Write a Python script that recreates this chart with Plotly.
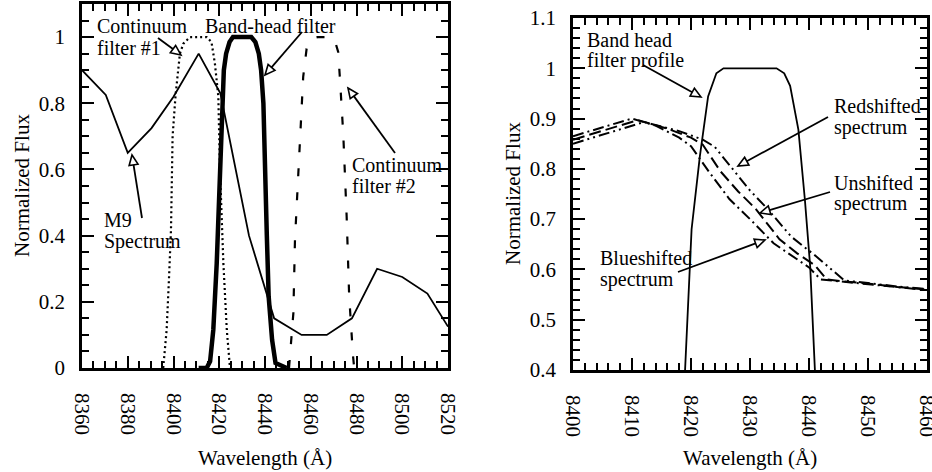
import plotly.graph_objects as go
import math

W, H = 932, 472
FONT = "Liberation Serif, Times New Roman, DejaVu Serif, serif"

# ---------------- Left panel data ----------------
m9_wl = [8360, 8370.4, 8380, 8390.4, 8400, 8411, 8420.5, 8433, 8444, 8456, 8467, 8478, 8489, 8500, 8511, 8520]
m9_flux = [0.90, 0.825, 0.65, 0.725, 0.82, 0.95, 0.83, 0.40, 0.15, 0.10, 0.10, 0.15, 0.30, 0.275, 0.225, 0.125]

cf1_wl = [8395.5, 8397, 8398, 8398.9, 8399.6, 8400.9, 8402.8, 8404.3, 8407.2, 8414.5, 8416.6, 8418.1, 8419.6, 8420.3, 8421.8, 8423.3, 8424.7]
cf1_tr = [0.0, 0.115, 0.266, 0.417, 0.70, 0.824, 0.95, 0.98, 1.0, 1.0, 0.985, 0.92, 0.82, 0.6, 0.317, 0.115, 0.0]

bh_wl = [8411, 8414.5, 8416, 8417.4, 8418.9, 8420.2, 8421.1, 8422, 8423, 8424.5, 8426, 8434, 8435.8, 8437.3, 8438.3, 8439.3, 8440.8, 8441.6, 8443.1, 8444.6, 8449.5]
bh_tr = [0.0, 0.0, 0.02, 0.115, 0.317, 0.6, 0.81, 0.9, 0.95, 0.985, 1.0, 1.0, 0.985, 0.95, 0.9, 0.8, 0.4, 0.216, 0.085, 0.015, 0.0]

cf2_wl = [8450.5, 8451, 8452.4, 8453.1, 8455.3, 8456.7, 8458.2, 8460.5, 8463, 8468, 8470.5, 8472, 8472.8, 8474.2, 8475.7, 8476.8, 8478.5, 8479]
cf2_tr = [0.0, 0.045, 0.166, 0.387, 0.688, 0.88, 0.965, 0.995, 1.0, 1.0, 0.99, 0.955, 0.87, 0.709, 0.457, 0.216, 0.035, 0.0]

# ---------------- Right panel data ----------------
rf_wl = [8418.6, 8419, 8420.1, 8421.5, 8422.9, 8424.3, 8425.5, 8434.5, 8435.8, 8436.8, 8438.2, 8439.3, 8440.2, 8441, 8441.3]
rf_tr = [0.3, 0.4, 0.68, 0.825, 0.944, 0.99, 1.0, 1.0, 0.99, 0.965, 0.878, 0.739, 0.606, 0.4, 0.3]

un_wl = [8400, 8411, 8416, 8420, 8422, 8425, 8428, 8431, 8435, 8438, 8441, 8443, 8446, 8450, 8455, 8460]
un_fx = [0.858, 0.897, 0.880, 0.862, 0.848, 0.795, 0.755, 0.720, 0.660, 0.632, 0.608, 0.580, 0.576, 0.572, 0.565, 0.560]

rs_wl = [8400, 8412, 8418, 8422, 8424, 8427, 8430, 8433, 8437, 8441, 8444.5, 8446, 8450, 8455, 8460]
rs_fx = [0.850, 0.893, 0.875, 0.858, 0.844, 0.800, 0.757, 0.720, 0.665, 0.628, 0.594, 0.578, 0.573, 0.566, 0.561]

bs_wl = [8400, 8410, 8414, 8418, 8420, 8423, 8426.5, 8430, 8434, 8437, 8440, 8442, 8446, 8450, 8455, 8460]
bs_fx = [0.865, 0.900, 0.886, 0.862, 0.845, 0.795, 0.740, 0.700, 0.652, 0.628, 0.604, 0.580, 0.575, 0.571, 0.564, 0.559]

# ---------------- layout geometry (screen pixels) ----------------
L_box = dict(x0=82, x1=448, top=4, bot=368)
R_box = dict(x0=573, x1=927, top=18, bot=370)


def px(x):
    return x / W


def py(y):
    return 1 - y / H


fig = go.Figure()

fig.add_trace(go.Scatter(x=m9_wl, y=m9_flux, mode="lines", line=dict(color="black", width=1.8),
                         xaxis="x", yaxis="y", showlegend=False))
fig.add_trace(go.Scatter(x=cf1_wl, y=cf1_tr, mode="lines", line=dict(color="black", width=2.2, dash="2px,3px"),
                         xaxis="x", yaxis="y", showlegend=False))
fig.add_trace(go.Scatter(x=bh_wl, y=bh_tr, mode="lines", line=dict(color="black", width=4.5),
                         xaxis="x", yaxis="y", showlegend=False))
fig.add_trace(go.Scatter(x=cf2_wl, y=cf2_tr, mode="lines", line=dict(color="black", width=2.2, dash="8px,16px"),
                         xaxis="x", yaxis="y", showlegend=False))

fig.add_trace(go.Scatter(x=rf_wl, y=rf_tr, mode="lines", line=dict(color="black", width=1.8),
                         xaxis="x2", yaxis="y2", showlegend=False))
fig.add_trace(go.Scatter(x=un_wl, y=un_fx, mode="lines", line=dict(color="black", width=2, dash="12px,5px"),
                         xaxis="x2", yaxis="y2", showlegend=False))
fig.add_trace(go.Scatter(x=rs_wl, y=rs_fx, mode="lines",
                         line=dict(color="black", width=2, dash="11px,4px,2px,4px,2px,4px"),
                         xaxis="x2", yaxis="y2", showlegend=False))
fig.add_trace(go.Scatter(x=bs_wl, y=bs_fx, mode="lines", line=dict(color="black", width=2, dash="11px,4px,2px,4px"),
                         xaxis="x2", yaxis="y2", showlegend=False))


def axis_common(**kw):
    d = dict(showline=True, linewidth=2.5, linecolor="black", mirror="ticks",
             ticks="inside", ticklen=12, tickwidth=1.5, tickcolor="black",
             showgrid=False, zeroline=False, automargin=False, ticklabeloverflow="allow",
             tickfont=dict(family=FONT, size=21, color="black"))
    d.update(kw)
    return d


def minor(dt, t0):
    return dict(ticks="inside", ticklen=7, tickwidth=1.5, tickcolor="black", dtick=dt, tick0=t0, showgrid=False)


fig.update_layout(
    width=W, height=H, margin=dict(l=0, r=0, t=0, b=0, autoexpand=False),
    paper_bgcolor="white", plot_bgcolor="white",
    font=dict(family=FONT, size=20, color="black"),
    xaxis=axis_common(domain=[px(L_box["x0"]), px(L_box["x1"])], range=[8360, 8520],
                      tickmode="linear", tick0=8360, dtick=20,
                      tickangle=90, ticklabelstandoff=18, anchor="y", minor=minor(5, 8360)),
    yaxis=axis_common(domain=[py(L_box["bot"]), py(L_box["top"])], range=[0, 1.1],
                      tickmode="linear", tick0=0, dtick=0.2,
                      ticklabelstandoff=10, anchor="x", minor=minor(0.05, 0)),
    xaxis2=axis_common(domain=[px(R_box["x0"]), px(R_box["x1"])], range=[8400, 8460],
                       tickmode="linear", tick0=8400, dtick=10,
                       tickangle=90, ticklabelstandoff=18, anchor="y2", minor=minor(2, 8400)),
    yaxis2=axis_common(domain=[py(R_box["bot"]), py(R_box["top"])], range=[0.4, 1.1],
                       tickmode="linear", tick0=0.4, dtick=0.1,
                       ticklabelstandoff=10, anchor="x2", minor=minor(0.02, 0.4)),
)

# ---------------- text labels (screen pixel positions: left x, center y) ----------------
labels = [
    ("Continuum", 95, 26), ("filter #1", 95, 48),
    ("Band-head filter", 203, 26),
    ("M9", 102, 220), ("Spectrum", 102, 241),
    ("Continuum", 350, 165), ("filter #2", 350, 186),
    ("Band head", 585, 40), ("filter profile", 585, 61),
    ("Redshifted", 832, 106), ("spectrum", 832, 127),
    ("Unshifted", 832, 183), ("spectrum", 832, 204),
    ("Blueshifted", 598, 258), ("spectrum", 598, 279),
]
for txt, lx, cy in labels:
    fig.add_annotation(text=txt, x=px(lx), y=py(cy), xref="paper", yref="paper",
                       xanchor="left", yanchor="middle", showarrow=False,
                       font=dict(family=FONT, size=20, color="black"))

# axis titles
for cx in [(L_box["x0"] + L_box["x1"]) / 2, (R_box["x0"] + R_box["x1"]) / 2]:
    fig.add_annotation(text="Wavelength (Å)", x=px(cx), y=py(458), xref="paper", yref="paper",
                       xanchor="center", yanchor="middle", showarrow=False,
                       font=dict(family=FONT, size=21, color="black"))
for cx, cy in [(22, (L_box["top"] + L_box["bot"]) / 2), (513, (R_box["top"] + R_box["bot"]) / 2)]:
    fig.add_annotation(text="Normalized Flux", x=px(cx), y=py(cy), xref="paper", yref="paper",
                       xanchor="center", yanchor="middle", showarrow=False, textangle=-90,
                       font=dict(family=FONT, size=21, color="black"))

# ---------------- arrows with open triangle heads (screen pixel tail -> tip) ----------------
arrows = [
    ((158, 38), (181, 55)),
    ((302, 32), (265, 75)),
    ((142, 218), (132, 155)),
    ((395, 153), (348, 88)),
    ((643, 65), (701, 97)),
    ((828, 117), (738, 166)),
    ((830, 192), (760, 213)),
    ((678, 272), (765, 240)),
]
HEAD_L, HEAD_W = 10, 4.5
for (tx, ty), (hx, hy) in arrows:
    dx, dy = hx - tx, hy - ty
    n = math.hypot(dx, dy)
    ux, uy = dx / n, dy / n
    bx, by = hx - ux * HEAD_L, hy - uy * HEAD_L
    nx, ny = -uy, ux
    fig.add_shape(type="line", xref="paper", yref="paper",
                  x0=px(tx), y0=py(ty), x1=px(bx), y1=py(by),
                  line=dict(color="black", width=1.8))
    p1 = (bx + nx * HEAD_W, by + ny * HEAD_W)
    p2 = (bx - nx * HEAD_W, by - ny * HEAD_W)
    path = "M {} {} L {} {} L {} {} Z".format(px(hx), py(hy), px(p1[0]), py(p1[1]), px(p2[0]), py(p2[1]))
    fig.add_shape(type="path", xref="paper", yref="paper", path=path,
                  line=dict(color="black", width=1.6), fillcolor="white")

# remove the default 8px page margin so the figure sits at the window's top-left corner
fig.write_html("out.html", config={"displayModeBar": False},
               post_script="document.body.style.margin='0';")
